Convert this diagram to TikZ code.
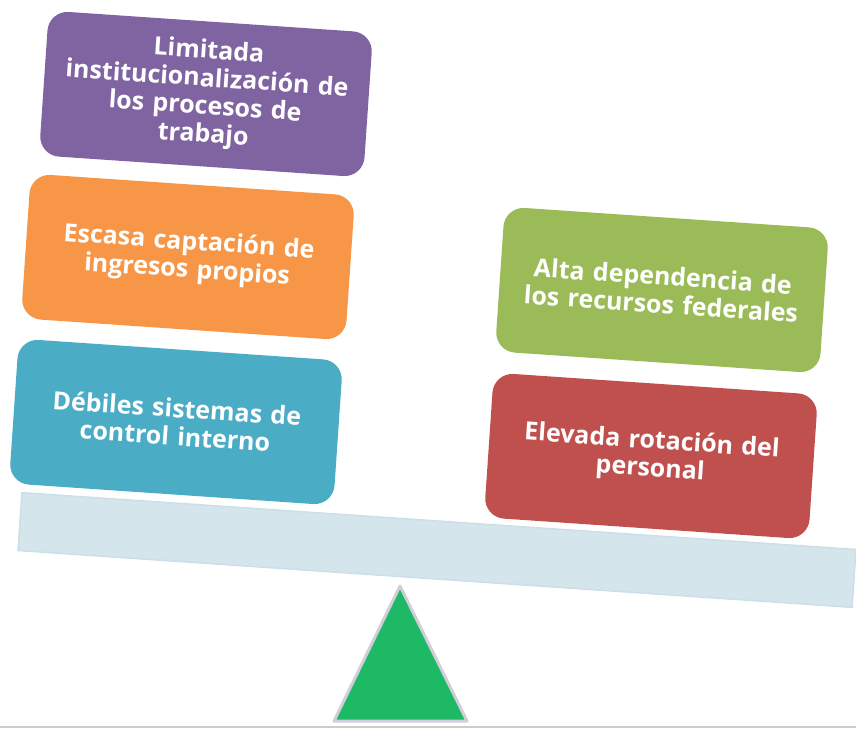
\documentclass[tikz,border=0pt]{standalone}
\usepackage{fontspec}
\setmainfont{Open Sans}
\definecolor{cpurple}{HTML}{8064A2}
\definecolor{corange}{HTML}{F79646}
\definecolor{cteal}{HTML}{4BACC6}
\definecolor{cgreen}{HTML}{9BBB59}
\definecolor{cred}{HTML}{C0504D}
\definecolor{beamfill}{HTML}{D4E5EC}
\definecolor{beamline}{HTML}{CCDFE7}
\definecolor{trifill}{HTML}{1DB964}
\definecolor{triline}{HTML}{CFCEDA}
\begin{document}
\begin{tikzpicture}[x=1pt,y=-1pt,
  card/.style={rounded corners=20pt, minimum width=325pt, minimum height=145pt,
    rotate=-3.9, text=white, font=\bfseries\fontsize{25}{28}\selectfont,
    align=center, text width=315pt, inner sep=0pt},
  beam/.style={fill=beamfill, draw=beamline, line width=1.5pt, rotate=-3.9,
    minimum width=836pt, minimum height=58pt, inner sep=0pt},
  fulcrum/.style={fill=trifill, draw=triline, line width=3pt, line join=round}
]
\useasboundingbox (0,0) rectangle (856,728);
\draw[draw=black!20, line width=1.5pt] (0,727) -- (856,727);
\node[beam] (beam) at (437,550) {};
\coordinate (apex) at (400,586);
\coordinate (bl) at (334,721);
\coordinate (br) at (467,721);
\draw[fulcrum] (apex) -- (br) -- (bl) -- cycle;
\node[card, fill=cpurple] (p) at (206,94) {Limitada\\institucionalización de\\los procesos de\\trabajo};
\node[card, fill=corange] (o) at (188,257) {Escasa captación de\\ingresos propios};
\node[card, fill=cteal] (t) at (176,422) {Débiles sistemas de\\control interno};
\node[card, fill=cgreen] (g) at (662,290) {Alta dependencia de\\los recursos federales};
\node[card, fill=cred] (r) at (651,456) {Elevada rotación del\\personal};
\end{tikzpicture}
\end{document}
